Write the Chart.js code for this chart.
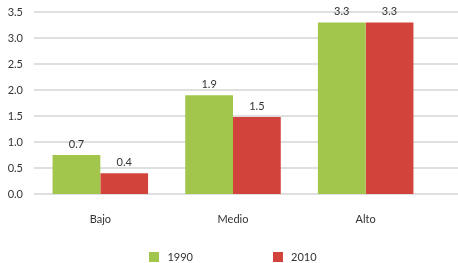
<!DOCTYPE html>
<html>
<head>
<meta charset="utf-8">
<script src="https://cdn.jsdelivr.net/npm/chart.js@4"></script>
<style>
html,body{margin:0;padding:0;background:#fff;}
#wrap{width:458px;height:263px;}
</style>
</head>
<body>
<div id="wrap"><canvas id="c" width="458" height="263"></canvas></div>
<script>
const categories = ["Bajo", "Medio", "Alto"];
const seriesNames = ["1990", "2010"];
const values1990 = [0.75, 1.9, 3.3];
const values2010 = [0.4, 1.48, 3.3];
const labels1990 = ["0.7", "1.9", "3.3"];
const labels2010 = ["0.4", "1.5", "3.3"];
const yTicks = [0, 0.5, 1, 1.5, 2, 2.5, 3, 3.5];

const FONT = "Lato";
const TEXT = "#333333";

const gridPlugin = {
  id: "fullGrid",
  beforeDatasetsDraw(chart) {
    const y = chart.scales.y;
    const ctx = chart.ctx;
    ctx.save();
    ctx.strokeStyle = "#d4d4d4";
    ctx.lineWidth = 1.6;
    y.ticks.forEach((t) => {
      const py = Math.round(y.getPixelForValue(t.value));
      ctx.beginPath();
      ctx.moveTo(chart.chartArea.left, py);
      ctx.lineTo(chart.width, py);
      ctx.stroke();
    });
    ctx.restore();
  }
};

const labelPlugin = {
  id: "valueLabels",
  afterDatasetsDraw(chart) {
    const ctx = chart.ctx;
    const lists = [labels1990, labels2010];
    ctx.save();
    ctx.font = "11px " + FONT;
    ctx.fillStyle = TEXT;
    ctx.textAlign = "center";
    ctx.textBaseline = "bottom";
    chart.data.datasets.forEach((ds, di) => {
      chart.getDatasetMeta(di).data.forEach((el, i) => {
        ctx.fillText(lists[di][i], el.x, el.y - 5);
      });
    });
    ctx.restore();
  }
};

const legendPlugin = {
  id: "customLegend",
  afterDraw(chart) {
    const ctx = chart.ctx;
    const ca = chart.chartArea;
    const cx = (ca.left + ca.right) / 2;
    const cy = ca.bottom + 63;
    const box = 10, gapText = 8, gapItems = 80;
    ctx.save();
    ctx.font = "11px " + FONT;
    ctx.textBaseline = "middle";
    ctx.textAlign = "left";
    const widths = chart.data.datasets.map(d => box + gapText + ctx.measureText(d.label).width);
    const total = widths.reduce((a, b) => a + b, 0) + gapItems * (widths.length - 1);
    let x = cx - total / 2;
    chart.data.datasets.forEach((d, i) => {
      ctx.fillStyle = d.backgroundColor;
      ctx.fillRect(Math.round(x), Math.round(cy - box / 2), box, box);
      ctx.fillStyle = TEXT;
      ctx.fillText(d.label, x + box + gapText, cy + 0.5);
      x += widths[i] + gapItems;
    });
    ctx.restore();
  }
};

new Chart(document.getElementById("c"), {
  type: "bar",
  data: {
    labels: categories,
    datasets: [
      { label: seriesNames[0], data: values1990, backgroundColor: "#a2c64c", borderWidth: 0 },
      { label: seriesNames[1], data: values2010, backgroundColor: "#d2443b", borderWidth: 0 }
    ]
  },
  options: {
    responsive: false,
    animation: false,
    devicePixelRatio: 1,
    layout: { padding: { left: 0, right: 26, top: 12, bottom: 37 } },
    datasets: { bar: { categoryPercentage: 0.72, barPercentage: 1.0 } },
    scales: {
      x: {
        grid: { display: false, drawTicks: false },
        border: { display: false },
        ticks: { color: TEXT, font: { family: FONT, size: 11 }, padding: 19 },
        afterFit(s) { s.height = 32; s.paddingLeft = 0; s.paddingRight = 0; }
      },
      y: {
        min: 0, max: 3.5,
        afterBuildTicks(s) { s.ticks = yTicks.map(v => ({ value: v })); },
        grid: { display: false, drawTicks: false },
        border: { display: false },
        ticks: { color: TEXT, font: { family: FONT, size: 11 }, padding: 11, autoSkip: false, callback: v => Number(v).toFixed(1) },
        afterFit(s) { s.width = 34; s.paddingTop = 0; s.paddingBottom = 0; }
      }
    },
    plugins: {
      legend: { display: false },
      tooltip: { enabled: false }
    }
  },
  plugins: [gridPlugin, labelPlugin, legendPlugin]
});
</script>
</body>
</html>
